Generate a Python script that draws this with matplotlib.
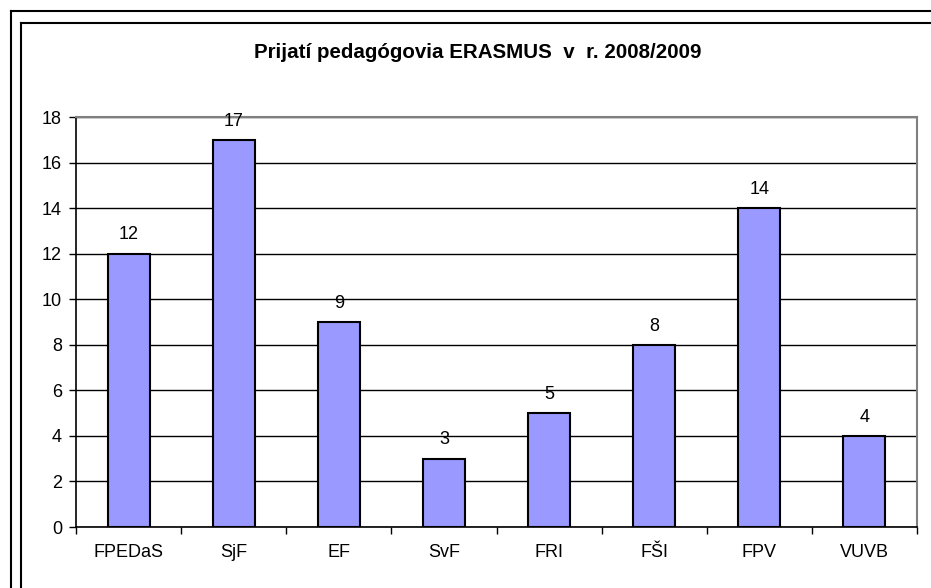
import matplotlib.pyplot as plt
from matplotlib.lines import Line2D
import numpy as np

plt.rcParams['font.family'] = ['Liberation Sans', 'DejaVu Sans']

# chart data
faculties = ['FPEDaS', 'SjF', 'EF', 'SvF', 'FRI', 'FŠI', 'FPV', 'VUVB']
counts = [12, 17, 9, 3, 5, 8, 14, 4]
title = 'Prijatí pedagógovia ERASMUS  v  r. 2008/2009'

W, H = 931, 588
fig = plt.figure(figsize=(W / 100, H / 100), dpi=100)

# double frame around the chart (cropped at right/bottom like the reference)
def px_line(x0, y0, x1, y1, lw=1.5):
    fig.add_artist(Line2D([x0 / W, x1 / W], [1 - y0 / H, 1 - y1 / H],
                          color='black', lw=lw, transform=fig.transFigure))

px_line(11, 11, W, 11)
px_line(11, 11, 11, H)
px_line(21, 23, W, 23)
px_line(21, 23, 21, H)

# plot area in pixel coordinates
left, right, top, bottom = 76, 917, 117, 527
ax = fig.add_axes([left / W, 1 - bottom / H, (right - left) / W, (bottom - top) / H])

x = np.arange(len(faculties))
bars = ax.bar(x, counts, width=0.4, color='#9999FF', edgecolor='black', lw=1.5, zorder=3)

for xi, v in zip(x, counts):
    ax.annotate(str(v), (xi, v), xytext=(0, 13.5), textcoords='offset points',
                ha='center', va='center', fontsize=13)

ax.set_xlim(-0.5, len(faculties) - 0.5)
ax.set_ylim(0, 18)
ax.set_yticks(range(0, 19, 2))
ax.yaxis.grid(True, color='black', lw=1, zorder=0)
ax.set_axisbelow(True)

# category ticks between bars, labels centered on bars
ax.set_xticks(np.arange(-0.5, len(faculties), 1.0))
ax.set_xticklabels([])
ax.set_xticks(x, minor=True)
ax.set_xticklabels(faculties, minor=True)
ax.tick_params(axis='x', which='minor', length=0, pad=12, labelsize=13)
ax.tick_params(axis='x', which='major', direction='out', length=5, width=1)
ax.tick_params(axis='y', direction='out', length=5, width=1, labelsize=13, pad=5)

for s in ['top', 'right']:
    ax.spines[s].set_color('#808080')
    ax.spines[s].set_linewidth(1.5)
for s in ['left', 'bottom']:
    ax.spines[s].set_color('black')
    ax.spines[s].set_linewidth(1.2)

fig.text(478 / W, 1 - 52 / H, title, ha='center', va='center',
         fontsize=14.8, fontweight='bold')

fig.savefig('out.png', dpi=100)
